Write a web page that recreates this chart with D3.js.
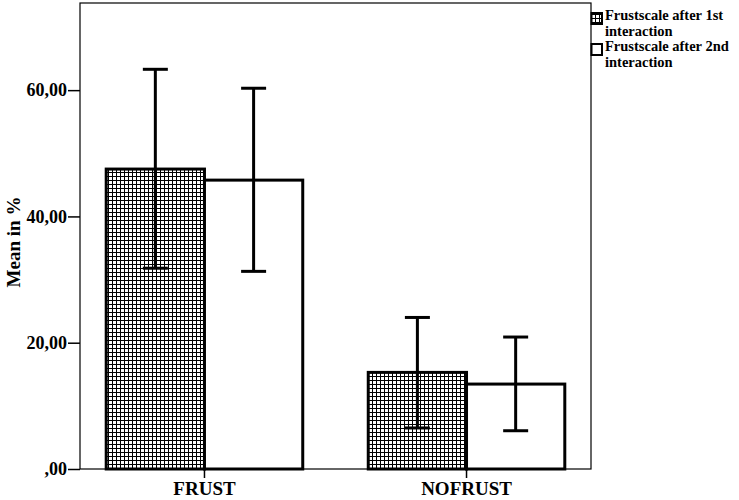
<!DOCTYPE html>
<html>
<head>
<meta charset="utf-8">
<script src="https://cdn.jsdelivr.net/npm/d3@7"></script>
<style>
  body { margin: 0; background: #fff; }
  svg { display: block; }
</style>
</head>
<body>
<div id="chart"></div>
<script>
const categories = ['FRUST', 'NOFRUST'];
const series = ['Frustscale after 1st interaction', 'Frustscale after 2nd interaction'];
const legendLines = [['Frustscale after 1st', 'interaction'], ['Frustscale after 2nd', 'interaction']];
const means = [[47.5, 45.75], [15.3, 13.45]];
const upper = [[63.3, 60.3], [24.0, 20.9]];
const lower = [[31.8, 31.3], [6.5, 6.06]];
const yTicks = [0, 20, 40, 60];

const width = 739, height = 500;
const plot = { left: 80, right: 591, top: 3, bottom: 469 };
const font = '"Liberation Serif", "Times New Roman", serif';

const svg = d3.select('#chart')
  .append('svg')
  .attr('width', width)
  .attr('height', height)
  .attr('font-family', font)
  .attr('font-weight', 'bold');

// cross-hatch fill for the first series
const pat = svg.append('defs').append('pattern')
  .attr('id', 'hatch')
  .attr('patternUnits', 'userSpaceOnUse')
  .attr('width', 4)
  .attr('height', 4);
pat.append('rect').attr('width', 4).attr('height', 4).attr('fill', '#fff');
pat.append('rect').attr('x', 0).attr('y', 0).attr('width', 1).attr('height', 4).attr('fill', '#000');
pat.append('rect').attr('x', 0).attr('y', 0).attr('width', 4).attr('height', 1).attr('fill', '#000');

const fills = ['url(#hatch)', '#fff'];

const x = d3.scaleBand()
  .domain(categories)
  .range([plot.left, plot.right])
  .paddingInner(0.25)
  .paddingOuter(0.1);

const xs = d3.scaleBand()
  .domain(d3.range(series.length))
  .range([0, x.bandwidth()]);

const y = d3.scaleLinear()
  .domain([0, 73.8])
  .range([plot.bottom, plot.top]);

// frame
svg.append('rect')
  .attr('x', plot.left)
  .attr('y', plot.top)
  .attr('width', plot.right - plot.left)
  .attr('height', plot.bottom - plot.top)
  .attr('fill', 'none')
  .attr('stroke', '#000')
  .attr('stroke-width', 1.2);

// y axis
const yAxis = svg.append('g')
  .attr('transform', `translate(${plot.left},0)`)
  .call(d3.axisLeft(y)
    .tickValues(yTicks)
    .tickSize(12)
    .tickFormat(d => d3.format('.2f')(d).replace('.', ',').replace(/^0/, '')));
yAxis.select('.domain').remove();
yAxis.selectAll('line').attr('stroke', '#000').attr('stroke-width', 1.5);
yAxis.selectAll('text')
  .attr('font-family', font)
  .attr('font-weight', 'bold')
  .attr('font-size', 18)
  .attr('fill', '#000')
  .attr('x', -13);

// x axis
const xAxis = svg.append('g')
  .attr('transform', `translate(0,${plot.bottom})`)
  .call(d3.axisBottom(x).tickSize(9));
xAxis.select('.domain').remove();
xAxis.selectAll('line').attr('stroke', '#000').attr('stroke-width', 1.5);
xAxis.selectAll('text')
  .attr('font-family', font)
  .attr('font-weight', 'bold')
  .attr('font-size', 19)
  .attr('fill', '#000')
  .attr('y', 13);

// y title
svg.append('text')
  .attr('transform', `translate(20,${(plot.top + plot.bottom) / 2 + 6}) rotate(-90)`)
  .attr('text-anchor', 'middle')
  .attr('font-size', 19)
  .text('Mean in %');

// bars
const rows = [];
categories.forEach((c, i) => {
  series.forEach((s, j) => {
    rows.push({ cat: c, s: j, mean: means[i][j], hi: upper[i][j], lo: lower[i][j] });
  });
});

const group = svg.append('g');
group.selectAll('rect.bar')
  .data(rows)
  .join('rect')
  .attr('class', 'bar')
  .attr('x', d => x(d.cat) + xs(d.s))
  .attr('y', d => y(d.mean))
  .attr('width', xs.bandwidth())
  .attr('height', d => y(0) - y(d.mean))
  .attr('fill', d => fills[d.s])
  .attr('stroke', '#000')
  .attr('stroke-width', 3);

// error bars
const cx = d => x(d.cat) + xs(d.s) + xs.bandwidth() / 2;
const err = svg.append('g').attr('stroke', '#000').attr('stroke-width', 3);
err.selectAll('line.v')
  .data(rows)
  .join('line')
  .attr('class', 'v')
  .attr('x1', cx).attr('x2', cx)
  .attr('y1', d => y(d.hi)).attr('y2', d => y(d.lo));
err.selectAll('line.hi')
  .data(rows)
  .join('line')
  .attr('class', 'hi')
  .attr('x1', d => cx(d) - 12.5).attr('x2', d => cx(d) + 12.5)
  .attr('y1', d => y(d.hi)).attr('y2', d => y(d.hi));
err.selectAll('line.lo')
  .data(rows)
  .join('line')
  .attr('class', 'lo')
  .attr('x1', d => cx(d) - 12.5).attr('x2', d => cx(d) + 12.5)
  .attr('y1', d => y(d.lo)).attr('y2', d => y(d.lo));

// legend
const legend = svg.append('g').attr('transform', `translate(${plot.right},0)`);
const item = legend.selectAll('g')
  .data(legendLines)
  .join('g')
  .attr('transform', (d, i) => `translate(0,${10 + i * 31})`);
item.append('rect')
  .attr('x', 0.5)
  .attr('y', 3)
  .attr('width', 10.5)
  .attr('height', 11)
  .attr('fill', (d, i) => fills[i])
  .attr('stroke', '#000')
  .attr('stroke-width', 2);
item.selectAll('text')
  .data(d => d)
  .join('text')
  .attr('x', 14)
  .attr('y', (d, i) => 10 + i * 15.5)
  .attr('font-size', 14.5)
  .text(d => d);
</script>
</body>
</html>
